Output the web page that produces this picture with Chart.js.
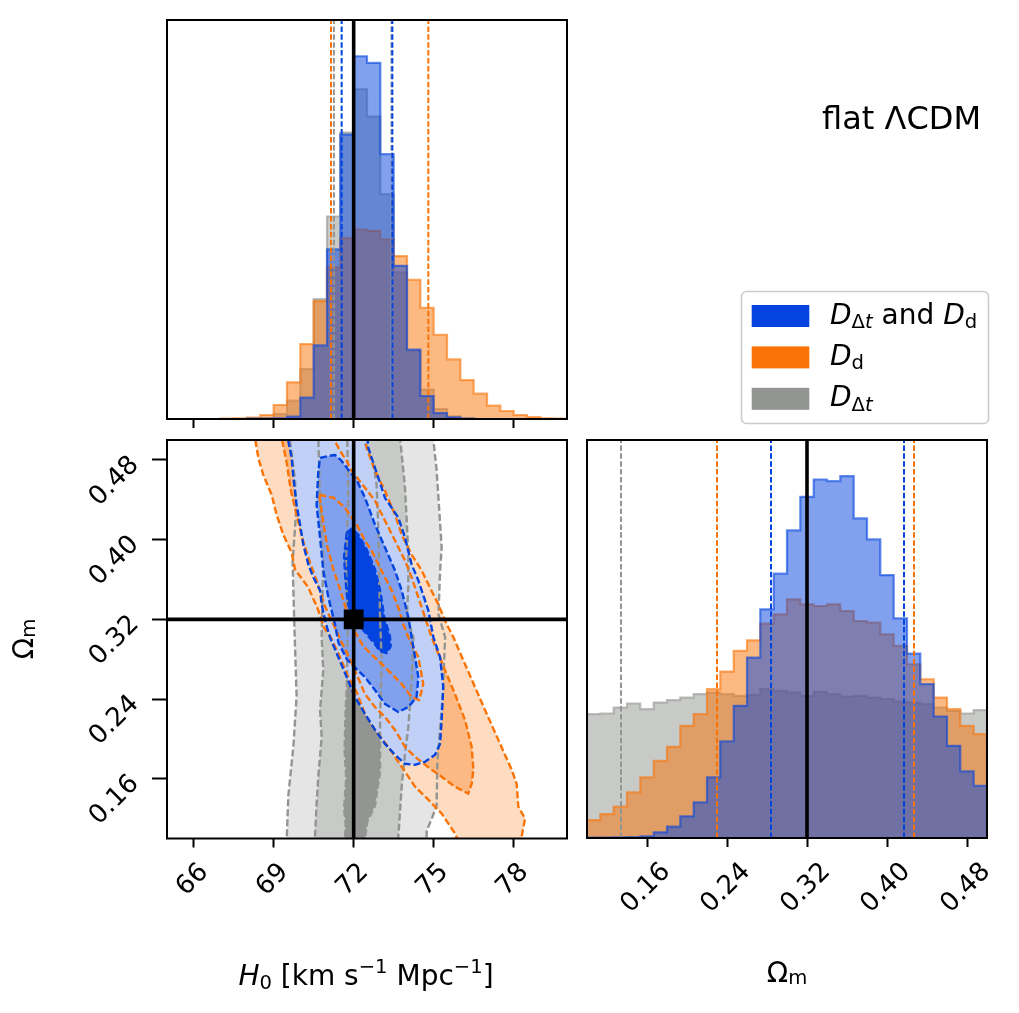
<!DOCTYPE html>
<html>
<head>
<meta charset="utf-8">
<script src="https://cdn.jsdelivr.net/npm/chart.js@4.4.1/dist/chart.umd.min.js"></script>
<style>
  html, body { margin: 0; padding: 0; background: #fff; }
  #wrap { position: relative; width: 1019px; height: 1013px; }
  #wrap canvas { position: absolute; left: 0; top: 0; }
</style>
</head>
<body>
<div id="wrap">
  <canvas id="h0Hist" width="1019" height="1013"></canvas>
  <canvas id="contours" width="1019" height="1013"></canvas>
  <canvas id="omHist" width="1019" height="1013"></canvas>
</div>
<script>
// --- Data ---
const H0_RANGE = [65, 80];
const OM_RANGE = [0.10, 0.50];
const H0_TICKS = [66, 69, 72, 75, 78];
const H0_TICK_LABELS = ['66', '69', '72', '75', '78'];
const OM_TICKS = [0.16, 0.24, 0.32, 0.40, 0.48];
const OM_TICK_LABELS = ['0.16', '0.24', '0.32', '0.40', '0.48'];
const TRUE_H0 = 72;
const TRUE_OM = 0.32;

// histogram bin edges
const H0_EDGES = [65, 65.5, 66, 66.5, 67, 67.5, 68, 68.5, 69, 69.5, 70, 70.5, 71, 71.5, 72, 72.5,
  73, 73.5, 74, 74.5, 75, 75.5, 76, 76.5, 77, 77.5, 78, 78.5, 79, 79.5, 80];
const OM_EDGES = [0.1, 0.1133, 0.1267, 0.14, 0.1533, 0.1667, 0.18, 0.1933, 0.2067, 0.22, 0.2333,
  0.2467, 0.26, 0.2733, 0.2867, 0.3, 0.3133, 0.3267, 0.34, 0.3533, 0.3667, 0.38, 0.3933, 0.4067,
  0.42, 0.4333, 0.4467, 0.46, 0.4733, 0.4867, 0.5];

// histogram heights (arbitrary density units)
const H0_BOTH = [0, 0, 0, 0, 0, 0, 1, 1, 2, 7, 64, 221, 509, 854, 1089, 1069, 795, 460, 208, 69, 18, 5, 1, 0, 0, 0, 0, 0, 0, 0];
const H0_DD = [0, 0, 0, 0, 1, 2, 4, 12, 42, 110, 225, 354, 455, 543, 569, 565, 539, 489, 418, 334, 253, 179, 117, 76, 40, 24, 12, 6, 2, 1];
const H0_DT = [0, 0, 0, 0, 0, 0, 1, 3, 15, 55, 150, 360, 608, 860, 990, 908, 675, 440, 205, 88, 30, 8, 2, 0, 0, 0, 0, 0, 0, 0];
const OM_BOTH = [1, 1, 2, 3, 5, 17, 34, 65, 107, 182, 290, 397, 542, 687, 794, 924, 1025, 1077, 1072, 1087, 960, 897, 790, 660, 554, 462, 365, 277, 200, 157];
const OM_DD = [54, 72, 94, 137, 182, 232, 274, 337, 372, 447, 500, 562, 594, 644, 672, 717, 702, 697, 702, 682, 652, 647, 612, 577, 522, 477, 422, 387, 337, 312];
const OM_DT = [372, 374, 392, 404, 387, 407, 414, 422, 432, 437, 432, 427, 430, 447, 442, 437, 427, 439, 432, 425, 427, 422, 417, 410, 407, 402, 392, 382, 374, 384];

// 16th / 84th percentiles
const H0_Q_DT = [71.26, 73.42];
const H0_Q_DD = [71.15, 74.80];
const H0_Q_BOTH = [71.55, 73.45];
const OM_Q_DT = [0.134];
const OM_Q_DD = [0.230, 0.427];
const OM_Q_BOTH = [0.284, 0.417];

// 2D contours [H0, Om], levels 1 (inner) to 3 (outer)
const DT_LV3 = [[69.59, 0.54], [69.61, 0.50], [69.80, 0.46], [69.84, 0.427], [69.71, 0.377], [69.78, 0.31], [69.86, 0.243], [69.74, 0.193], [69.55, 0.143], [69.49, 0.10], [69.46, 0.07],
  [74.71, 0.07], [74.74, 0.108], [74.93, 0.12], [75.11, 0.133], [75.14, 0.177], [75.24, 0.21], [75.34, 0.243], [75.39, 0.277], [75.43, 0.302], [75.18, 0.325], [75.24, 0.368], [75.30, 0.392], [75.24, 0.417], [75.11, 0.47], [74.99, 0.50], [74.96, 0.54]];
const DT_LV2 = [[70.65, 0.54], [70.675, 0.50], [70.74, 0.443], [70.86, 0.377], [70.80, 0.302], [70.86, 0.269], [70.74, 0.229], [70.80, 0.202], [70.675, 0.162], [70.61, 0.135], [70.55, 0.102], [70.525, 0.07],
  [73.65, 0.07], [73.675, 0.102], [73.80, 0.152], [73.925, 0.185], [74.05, 0.212], [74.175, 0.259], [74.24, 0.302], [73.99, 0.322], [74.05, 0.352], [74.05, 0.385], [73.99, 0.419], [73.925, 0.452], [73.74, 0.502], [73.71, 0.54]];
const DT_LV1 = [[71.74, 0.52], [71.76, 0.50], [71.80, 0.443], [71.71, 0.377], [71.775, 0.31], [71.74, 0.249], [71.70, 0.23], [71.66, 0.19], [71.72, 0.16], [71.64, 0.13], [71.70, 0.115], [71.675, 0.10], [71.675, 0.07],
  [72.39, 0.07], [72.425, 0.10], [72.51, 0.117], [72.80, 0.133], [72.99, 0.167], [72.99, 0.22], [73.05, 0.277], [72.99, 0.322], [72.925, 0.41], [72.86, 0.455], [72.75, 0.475], [72.50, 0.492], [72.20, 0.51]];

const DD_LV3 = [[68.24, 0.53], [68.30, 0.502], [68.425, 0.482], [68.61, 0.465], [68.925, 0.445], [69.11, 0.425], [69.36, 0.405], [69.675, 0.387], [69.80, 0.370], [70.30, 0.352], [70.675, 0.329], [70.86, 0.313], [71.14, 0.302],
  [71.49, 0.282], [71.80, 0.262], [72.11, 0.247], [72.425, 0.225], [72.80, 0.209], [73.30, 0.192], [73.80, 0.172], [74.30, 0.152], [74.80, 0.139], [75.30, 0.125], [75.80, 0.105], [75.925, 0.097], [76.24, 0.07],
  [78.24, 0.07], [78.30, 0.102], [78.425, 0.120], [78.175, 0.132], [78.11, 0.155], [77.925, 0.169], [77.425, 0.199], [76.925, 0.229], [76.55, 0.252], [76.175, 0.275], [75.74, 0.302], [75.49, 0.315],
  [75.175, 0.335], [74.86, 0.352], [74.55, 0.369], [74.175, 0.385], [73.80, 0.405], [73.55, 0.425], [73.175, 0.449], [72.80, 0.469], [72.49, 0.492], [72.30, 0.53], [70.36, 0.56]];
const DD_LV2 = [[69.26, 0.53], [69.30, 0.502], [69.49, 0.477], [69.64, 0.45], [69.84, 0.427], [70.09, 0.40], [70.36, 0.377], [70.64, 0.357], [70.925, 0.333], [71.24, 0.315], [71.55, 0.297], [71.86, 0.28],
  [72.14, 0.263], [72.425, 0.245], [72.80, 0.232], [73.175, 0.222], [73.55, 0.209], [73.925, 0.192], [74.30, 0.182], [74.925, 0.169], [75.30, 0.162], [75.80, 0.152], [76.30, 0.145], [76.425, 0.155],
  [76.49, 0.169], [76.425, 0.192], [76.175, 0.219], [75.80, 0.245], [75.425, 0.269], [74.925, 0.302], [74.675, 0.322], [74.425, 0.342], [74.175, 0.362], [73.925, 0.379], [73.55, 0.399], [73.175, 0.419],
  [72.80, 0.439], [72.425, 0.452], [71.925, 0.469], [71.74, 0.479], [71.49, 0.489], [71.24, 0.502], [71.05, 0.53], [70.11, 0.55]];
const DD_LV1 = [[70.71, 0.445], [71.24, 0.442], [71.675, 0.432], [72.11, 0.415], [72.425, 0.399], [72.675, 0.389], [72.925, 0.375], [73.175, 0.362], [73.425, 0.349], [73.675, 0.332], [73.86, 0.315], [74.05, 0.302],
  [74.425, 0.282], [74.61, 0.255], [74.46, 0.239], [74.175, 0.242], [73.80, 0.255], [73.175, 0.272], [72.74, 0.283], [72.36, 0.293], [71.99, 0.31], [71.74, 0.328], [71.49, 0.35], [71.24, 0.37], [71.01, 0.393], [70.86, 0.417]];

const BOTH_LV3 = [[69.46, 0.53], [69.55, 0.499], [69.675, 0.482], [69.74, 0.462], [69.86, 0.435], [69.99, 0.415], [70.11, 0.395], [70.30, 0.375], [70.49, 0.362], [70.74, 0.349], [70.80, 0.335], [70.925, 0.319],
  [71.11, 0.302], [71.425, 0.282], [71.74, 0.262], [72.05, 0.242], [72.425, 0.225], [72.80, 0.209], [73.175, 0.195], [73.55, 0.184], [73.925, 0.175], [74.30, 0.174], [74.675, 0.177], [75.05, 0.184],
  [75.24, 0.195], [75.30, 0.219], [75.36, 0.252], [75.24, 0.282], [74.99, 0.302], [74.80, 0.329], [74.425, 0.359], [74.175, 0.375], [73.925, 0.402], [73.675, 0.422], [73.175, 0.442], [72.925, 0.462],
  [72.55, 0.492], [72.425, 0.53], [70.99, 0.56]];
const BOTH_LV2 = [[70.74, 0.482], [71.05, 0.484], [71.30, 0.485], [71.55, 0.479], [71.80, 0.470], [72.11, 0.46], [72.425, 0.442], [72.80, 0.415], [73.175, 0.392], [73.55, 0.369], [73.80, 0.349], [74.05, 0.322],
  [74.175, 0.302], [74.30, 0.282], [74.425, 0.262], [74.36, 0.242], [74.05, 0.232], [73.675, 0.227], [73.175, 0.235], [72.80, 0.249], [72.425, 0.262], [72.11, 0.27], [71.74, 0.28], [71.425, 0.297],
  [71.30, 0.315], [71.05, 0.342], [70.86, 0.369], [70.74, 0.402], [70.61, 0.435], [70.675, 0.469]];
const BOTH_LV1 = [[71.74, 0.407], [71.925, 0.411], [72.175, 0.405], [72.49, 0.39], [72.80, 0.37], [73.01, 0.347], [73.14, 0.323], [73.36, 0.303], [73.39, 0.293], [73.24, 0.286], [72.99, 0.288], [72.74, 0.297],
  [72.425, 0.307], [72.175, 0.315], [71.925, 0.323], [71.775, 0.337], [71.69, 0.36], [71.64, 0.383]];

// --- Styles ---
const W = 1019, H = 1013;
const FONT = '"DejaVu Sans", "Liberation Sans", sans-serif';
const TICK_SIZE = 26;
const LABEL_SIZE = 28;
const BLUE = [3, 67, 223], ORANGE = [249, 115, 6], GRAY = [146, 149, 145];
const SHADES = {
  dt: ['#929591', '#c8cac8', '#e4e5e4'],
  dd: ['#f97306', '#fcb983', '#fddcc1'],
  both: ['#0343df', '#81a1ef', '#c0d0f7']
};
const AREA_H0 = { left: 167, top: 20, right: 567, bottom: 419 };
const AREA_2D = { left: 167, top: 440, right: 567, bottom: 838.5 };
const AREA_OM = { left: 587, top: 440, right: 987, bottom: 838 };

function rgba(c, a) { return 'rgba(' + c[0] + ',' + c[1] + ',' + c[2] + ',' + a + ')'; }
function pts(arr) { return arr.map(p => ({ x: p[0], y: p[1] })); }
function ring(arr) { return pts(arr.concat([arr[0]])); }
function stepLine(edges, values) {
  const out = [{ x: edges[0], y: 0 }];
  values.forEach((v, i) => { out.push({ x: edges[i], y: v }, { x: edges[i + 1], y: v }); });
  out.push({ x: edges[edges.length - 1], y: 0 });
  return out;
}
function vline(x, y0, y1) { return [{ x: x, y: y0 }, { x: x, y: y1 }]; }

// --- Dataset builders ---
function histLayer(edges, values, c) {
  return { data: stepLine(edges, values), fill: 'origin', backgroundColor: rgba(c, 0.5),
    borderColor: rgba(c, 0.6), borderWidth: 2.2, borderJoinStyle: 'miter' };
}
function quantLayers(qs, c, ymax) {
  return qs.map(q => ({ data: vline(q, 0, ymax), borderColor: rgba(c, 1), borderWidth: 2, borderDash: [5.5, 2.4] }));
}
function fillLayer(poly, color) {
  return { data: ring(poly), fill: 'shape', backgroundColor: color, borderColor: 'rgba(0,0,0,0)', borderWidth: 1 };
}
function edgeLayer(poly, c) {
  return { data: ring(poly), borderColor: rgba(c, 1), borderWidth: 2.4, borderDash: [7, 3], borderJoinStyle: 'round' };
}

function axisOpts(range, ticks, pos, tickLen) {
  return {
    type: 'linear', position: pos, min: range[0], max: range[1],
    border: { display: false },
    grid: { display: ticks.length > 0, drawOnChartArea: false, drawTicks: true, tickLength: tickLen,
      tickWidth: 2, tickColor: '#000', color: '#000' },
    ticks: { display: false },
    afterBuildTicks: s => { s.ticks = ticks.map(v => ({ value: v })); },
    afterFit: s => { if (pos === 'bottom') s.height = 0; else s.width = 0; }
  };
}

function makeChart(id, area, xAxis, yAxis, layers, decorate) {
  layers.forEach((d, i) => {
    d.order = layers.length - i; // later layers draw on top
    d.pointRadius = d.pointRadius || 0;
    d.tension = 0;
  });
  return new Chart(document.getElementById(id), {
    type: 'line',
    data: { datasets: layers },
    options: {
      responsive: false, animation: false, events: [],
      layout: { autoPadding: false, padding: { left: area.left, top: area.top, right: W - area.right, bottom: H - area.bottom } },
      plugins: { legend: { display: false }, tooltip: { enabled: false } },
      scales: { x: xAxis, y: yAxis }
    },
    plugins: [{ id: 'deco', afterDraw: chart => decorate(chart) }]
  });
}

// --- Text helpers ---
// parts: [text, flags] with flags: 'i' italic, '_' subscript, '^' superscript
function mathText(ctx, parts, x, y, size, align, subShift) {
  const sub = subShift === undefined ? 0.16 : subShift;
  const items = parts.map(p => {
    const f = p[1] || '';
    const small = f.indexOf('_') >= 0 || f.indexOf('^') >= 0;
    const font = (f.indexOf('i') >= 0 ? 'italic ' : '') + (small ? size * 0.7 : size) + 'px ' + FONT;
    ctx.font = font;
    const dy = f.indexOf('_') >= 0 ? size * sub : (f.indexOf('^') >= 0 ? -size * 0.43 : 0);
    return { t: p[0], font: font, w: ctx.measureText(p[0]).width, dy: dy };
  });
  const total = items.reduce((s, it) => s + it.w, 0);
  let cx = align === 'center' ? x - total / 2 : (align === 'right' ? x - total : x);
  ctx.textAlign = 'left';
  ctx.textBaseline = 'alphabetic';
  items.forEach(it => { ctx.font = it.font; ctx.fillText(it.t, cx, y + it.dy); cx += it.w; });
}
function drawFrame(chart) {
  const { ctx, chartArea: a } = chart;
  ctx.save();
  ctx.strokeStyle = '#000';
  ctx.lineWidth = 2;
  ctx.strokeRect(a.left, a.top, a.right - a.left, a.bottom - a.top);
  ctx.restore();
}
function xTickLabels(chart, ticks, labels) {
  const { ctx, chartArea: a, scales } = chart;
  ctx.save();
  ctx.fillStyle = '#000';
  ctx.font = TICK_SIZE + 'px ' + FONT;
  ctx.textAlign = 'center';
  ctx.textBaseline = 'middle';
  ticks.forEach((v, i) => {
    const w = ctx.measureText(labels[i]).width;
    const cx = scales.x.getPixelForValue(v) - 1;
    const cy = a.bottom + 23 + 0.3536 * (w + 0.73 * TICK_SIZE);
    ctx.save();
    ctx.translate(cx, cy);
    ctx.rotate(-Math.PI / 4);
    ctx.fillText(labels[i], 0, 0);
    ctx.restore();
  });
  ctx.restore();
}
function yTickLabels(chart, ticks, labels) {
  const { ctx, chartArea: a, scales } = chart;
  ctx.save();
  ctx.fillStyle = '#000';
  ctx.font = TICK_SIZE + 'px ' + FONT;
  ctx.textAlign = 'right';
  ctx.textBaseline = 'middle';
  ticks.forEach((v, i) => {
    ctx.save();
    ctx.translate(a.left - 32, scales.y.getPixelForValue(v) + 1);
    ctx.rotate(-Math.PI / 4);
    ctx.fillText(labels[i], 0, 0);
    ctx.restore();
  });
  ctx.restore();
}

const LEGEND_ITEMS = [
  { color: BLUE, parts: [['D', 'i'], ['Δ', '_'], ['t', '_i'], [' and '], ['D', 'i'], ['d', '_']] },
  { color: ORANGE, parts: [['D', 'i'], ['d', '_']] },
  { color: GRAY, parts: [['D', 'i'], ['Δ', '_'], ['t', '_i']] }
];
function drawLegend(ctx) {
  ctx.save();
  ctx.beginPath();
  if (ctx.roundRect) ctx.roundRect(741.5, 291.5, 247, 132, 5); else ctx.rect(741.5, 291.5, 247, 132);
  ctx.fillStyle = 'rgba(255,255,255,0.8)';
  ctx.fill();
  ctx.strokeStyle = '#cccccc';
  ctx.lineWidth = 1.6;
  ctx.stroke();
  LEGEND_ITEMS.forEach((it, i) => {
    const top = 305 + i * 41.4;
    ctx.fillStyle = rgba(it.color, 1);
    ctx.fillRect(751.7, top, 57.6, 22);
    ctx.fillStyle = '#000';
    mathText(ctx, it.parts, 830, top + 18.5, LABEL_SIZE, 'left');
  });
  ctx.fillStyle = '#000';
  ctx.font = '32px ' + FONT;
  ctx.textAlign = 'right';
  ctx.textBaseline = 'alphabetic';
  ctx.fillText('flat ΛCDM', 981, 129);
  ctx.restore();
}

// --- H0 marginal ---
const h0Max = 1.1 * Math.max(...H0_BOTH, ...H0_DD, ...H0_DT);
makeChart('h0Hist', AREA_H0,
  axisOpts(H0_RANGE, H0_TICKS, 'bottom', 9),
  axisOpts([0, h0Max], [], 'left', 0),
  [
    histLayer(H0_EDGES, H0_DT, GRAY),
    histLayer(H0_EDGES, H0_DD, ORANGE),
    histLayer(H0_EDGES, H0_BOTH, BLUE),
    ...quantLayers(H0_Q_DT, GRAY, h0Max),
    ...quantLayers(H0_Q_DD, ORANGE, h0Max),
    ...quantLayers(H0_Q_BOTH, BLUE, h0Max),
    { data: vline(TRUE_H0, 0, h0Max), borderColor: '#000', borderWidth: 3.6 }
  ],
  chart => { drawFrame(chart); drawLegend(chart.ctx); }
);

// --- H0 vs Om contours ---
makeChart('contours', AREA_2D,
  axisOpts(H0_RANGE, H0_TICKS, 'bottom', 9),
  axisOpts(OM_RANGE, OM_TICKS, 'left', 15),
  [
    fillLayer(DT_LV3, SHADES.dt[2]), fillLayer(DT_LV2, SHADES.dt[1]), fillLayer(DT_LV1, SHADES.dt[0]),
    fillLayer(DD_LV3, SHADES.dd[2]), fillLayer(DD_LV2, SHADES.dd[1]), fillLayer(DD_LV1, SHADES.dd[0]),
    fillLayer(BOTH_LV3, SHADES.both[2]), fillLayer(BOTH_LV2, SHADES.both[1]), fillLayer(BOTH_LV1, SHADES.both[0]),
    edgeLayer(DT_LV3, GRAY), edgeLayer(DT_LV2, GRAY), edgeLayer(DT_LV1, GRAY),
    edgeLayer(DD_LV3, ORANGE), edgeLayer(DD_LV2, ORANGE), edgeLayer(DD_LV1, ORANGE),
    edgeLayer(BOTH_LV3, BLUE), edgeLayer(BOTH_LV2, BLUE), edgeLayer(BOTH_LV1, BLUE),
    { data: vline(TRUE_H0, OM_RANGE[0], OM_RANGE[1]), borderColor: '#000', borderWidth: 3.6 },
    { data: [{ x: H0_RANGE[0], y: TRUE_OM }, { x: H0_RANGE[1], y: TRUE_OM }], borderColor: '#000', borderWidth: 3.6 },
    { data: [{ x: TRUE_H0, y: TRUE_OM }], showLine: false, pointRadius: 14, pointStyle: 'rect',
      pointBackgroundColor: '#000', pointBorderColor: '#000', pointBorderWidth: 0 }
  ],
  chart => {
    const ctx = chart.ctx;
    drawFrame(chart);
    xTickLabels(chart, H0_TICKS, H0_TICK_LABELS);
    yTickLabels(chart, OM_TICKS, OM_TICK_LABELS);
    ctx.save();
    ctx.fillStyle = '#000';
    mathText(ctx, [['H', 'i'], ['0', '_'], [' [km s'], ['−1', '^'], [' Mpc'], ['−1', '^'], [']']], 366, 985, LABEL_SIZE, 'center');
    ctx.translate(33, 639);
    ctx.rotate(-Math.PI / 2);
    mathText(ctx, [['Ω'], ['m', '_']], 0, 0, LABEL_SIZE, 'center', 0.08);
    ctx.restore();
  }
);

// --- Om marginal ---
const omMax = 1.1 * Math.max(...OM_BOTH, ...OM_DD, ...OM_DT);
makeChart('omHist', AREA_OM,
  axisOpts(OM_RANGE, OM_TICKS, 'bottom', 9),
  axisOpts([0, omMax], [], 'left', 0),
  [
    histLayer(OM_EDGES, OM_DT, GRAY),
    histLayer(OM_EDGES, OM_DD, ORANGE),
    histLayer(OM_EDGES, OM_BOTH, BLUE),
    ...quantLayers(OM_Q_DT, GRAY, omMax),
    ...quantLayers(OM_Q_DD, ORANGE, omMax),
    ...quantLayers(OM_Q_BOTH, BLUE, omMax),
    { data: vline(TRUE_OM, 0, omMax), borderColor: '#000', borderWidth: 3.6 }
  ],
  chart => {
    drawFrame(chart);
    xTickLabels(chart, OM_TICKS, OM_TICK_LABELS);
    chart.ctx.save();
    chart.ctx.fillStyle = '#000';
    mathText(chart.ctx, [['Ω'], ['m', '_']], 787, 982, LABEL_SIZE, 'center', 0.08);
    chart.ctx.restore();
  }
);
</script>
</body>
</html>
